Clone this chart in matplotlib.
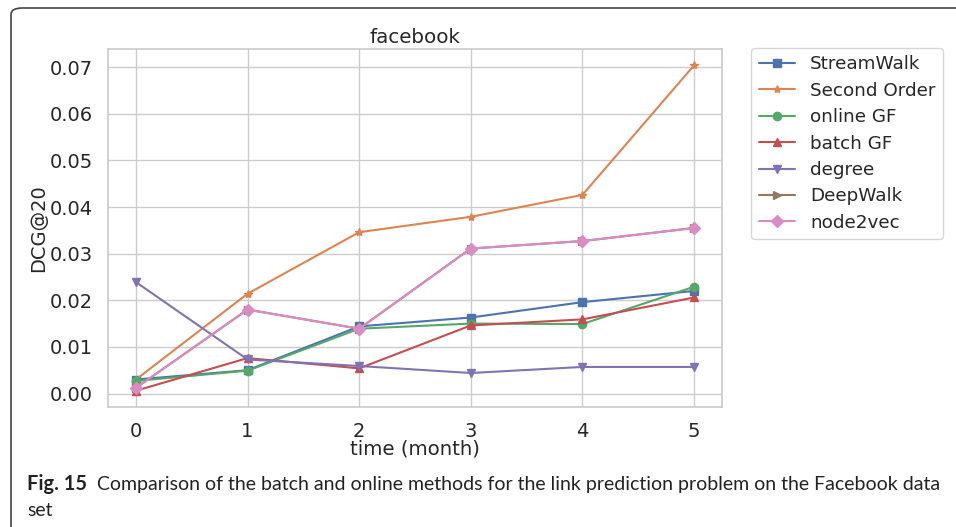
import matplotlib
matplotlib.use("Agg")
import matplotlib.pyplot as plt
import seaborn as sns
from matplotlib.patches import FancyBboxPatch

sns.set_theme(style="whitegrid", palette="deep")
plt.rcParams['font.family'] = ['DejaVu Sans']

months = [0, 1, 2, 3, 4, 5]
streamwalk = [0.0030, 0.0050, 0.0144, 0.0163, 0.0196, 0.0220]
second_order = [0.0030, 0.0214, 0.0346, 0.0379, 0.0426, 0.0704]
online_gf = [0.0027, 0.0049, 0.0139, 0.0150, 0.0149, 0.0229]
batch_gf = [0.0006, 0.0076, 0.0054, 0.0146, 0.0159, 0.0206]
degree = [0.0239, 0.0073, 0.0059, 0.0044, 0.0057, 0.0057]
deepwalk = [0.0012, 0.0180, 0.0139, 0.0311, 0.0327, 0.0355]
node2vec = [0.0012, 0.0180, 0.0139, 0.0311, 0.0327, 0.0355]

series = [
    ("StreamWalk", streamwalk, "s"),
    ("Second Order", second_order, "*"),
    ("online GF", online_gf, "o"),
    ("batch GF", batch_gf, "^"),
    ("degree", degree, "v"),
    ("DeepWalk", deepwalk, ">"),
    ("node2vec", node2vec, "D"),
]
colors = sns.color_palette("deep")

fig = plt.figure(figsize=(9.56, 5.27), dpi=100)
ax = fig.add_axes([108 / 956, 1 - 407 / 527, (722 - 108) / 956, (407 - 49) / 527])

for i, (name, vals, mk) in enumerate(series):
    ax.plot(months, vals, marker=mk, color=colors[i], label=name,
            linewidth=1.5, markersize=6)

ax.set_title("facebook", fontsize=14.3, pad=4)
ax.set_xlabel("time (month)", fontsize=14.2, labelpad=-1)
ax.set_ylabel("DCG@20", fontsize=14, labelpad=1)
ax.tick_params(labelsize=14, pad=5)
ax.set_xticks(months)
ax.set_yticks([0.0, 0.01, 0.02, 0.03, 0.04, 0.05, 0.06, 0.07])
ax.yaxis.set_major_formatter(matplotlib.ticker.FormatStrFormatter('%.2f'))

ax.legend(loc="upper left", bbox_to_anchor=(1.048, 1.003), fontsize=13.2,
          frameon=True, borderaxespad=0, labelspacing=0.46)

# rounded frame around the figure
frame = FancyBboxPatch((11 / 956, -0.05), (1010 - 11) / 956, (1 - 8 / 527) + 0.05,
                       boxstyle="round,pad=0,rounding_size=0.012",
                       transform=fig.transFigure, fill=False,
                       edgecolor="#444444", linewidth=1.2, clip_on=False)
fig.patches.append(frame)

# caption, fitted to the reference width
renderer = fig.canvas.get_renderer()
cap_font = ["Lato"]
t1 = fig.text(27 / 956, 1 - 490 / 527, "Fig. 15", fontsize=14, fontweight="bold",
              family=cap_font, color="#222222")
w1 = t1.get_window_extent(renderer).width
t1.set_fontsize(14 * 60 / w1)
t2 = fig.text(97 / 956, 1 - 490 / 527,
              "Comparison of the batch and online methods for the link prediction problem on the Facebook data",
              fontsize=14, family=cap_font, color="#222222")
w2 = t2.get_window_extent(renderer).width
t2.set_fontsize(14 * 845 / w2)
fig.text(27 / 956, 1 - 516 / 527, "set", fontsize=t2.get_fontsize(), family=cap_font,
         color="#222222")

fig.savefig("out.png", dpi=100)
